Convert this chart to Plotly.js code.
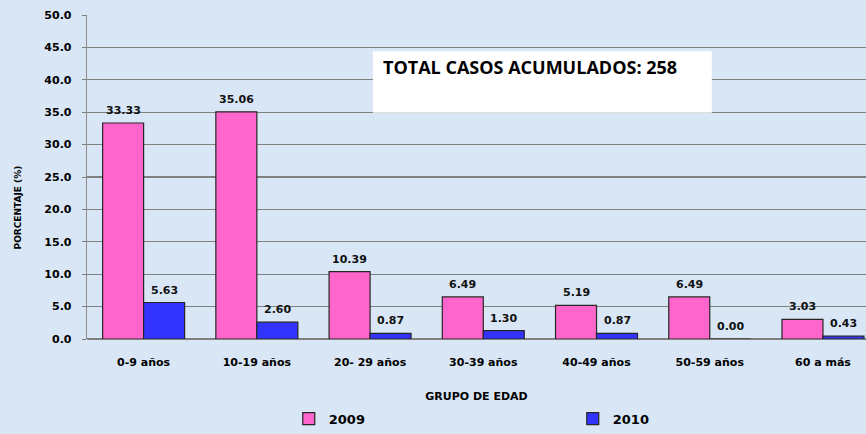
<!DOCTYPE html>
<html>
<head>
<meta charset="utf-8">
<script src="https://cdn.plot.ly/plotly-3.0.1.min.js"></script>
<style>
  body { margin: 0; background: #d8e6f5; }
  #plot { width: 866px; height: 434px; }
</style>
</head>
<body>
<div id="plot"></div>
<script>
var grupos = ['0-9 años', '10-19 años', '20- 29 años', '30-39 años', '40-49 años', '50-59 años', '60 a más'];
var v2009 = [33.33, 35.06, 10.39, 6.49, 5.19, 6.49, 3.03];
var v2010 = [5.63, 2.60, 0.87, 1.30, 0.87, 0.00, 0.43];

var fnt = 'DejaVu Sans, Verdana, sans-serif';

var trace1 = {
  x: grupos,
  y: v2009,
  name: '<b>2009</b>',
  type: 'bar',
  marker: {color: '#ff66cc', line: {color: '#262626', width: 1.2}},
  hoverinfo: 'none'
};

var trace2 = {
  x: grupos,
  y: v2010,
  name: '<b>2010</b>',
  type: 'bar',
  marker: {color: '#3333ff', line: {color: '#262626', width: 1.2}},
  hoverinfo: 'none'
};

// value labels above each bar
var notes = [];
grupos.forEach(function (g, i) {
  notes.push({x: g, y: v2009[i], text: '<b>' + v2009[i].toFixed(2) + '</b>', xref: 'x', yref: 'y',
    xshift: -20.5, yshift: 4, yanchor: 'bottom', showarrow: false,
    font: {family: fnt, size: 11, color: '#111'}});
  notes.push({x: g, y: v2010[i], text: '<b>' + v2010[i].toFixed(2) + '</b>', xref: 'x', yref: 'y',
    xshift: 20.5, yshift: 4, yanchor: 'bottom', showarrow: false,
    font: {family: fnt, size: 11, color: '#111'}});
});

notes.push({text: '<b>TOTAL CASOS ACUMULADOS: 258</b>', xref: 'paper', yref: 'y',
  x: 0.378, y: 41.9, xanchor: 'left', yanchor: 'middle', showarrow: false,
  font: {family: 'Open Sans, Lato, sans-serif', size: 18, color: '#000'}});

notes.push({text: '<b>PORCENTAJE (%)</b>', xref: 'paper', yref: 'paper',
  x: -0.098, y: 0.405, textangle: -90, showarrow: false,
  font: {family: fnt, size: 9, color: '#000'}});

var layout = {
  width: 866, height: 434,
  margin: {l: 87, r: 0, t: 15, b: 95, pad: 0},
  paper_bgcolor: '#d8e6f5',
  plot_bgcolor: 'rgba(0,0,0,0)',
  barmode: 'group',
  bargap: 0.276,
  bargroupgap: 0,
  showlegend: true,
  legend: {orientation: 'h', x: 0.259, y: -0.292, xanchor: 'left', yanchor: 'bottom',
    entrywidth: 239, itemwidth: 30, bgcolor: 'rgba(0,0,0,0)',
    font: {family: fnt, size: 13, color: '#000'}},
  xaxis: {
    type: 'category', range: [-0.5, 6.38], showgrid: false, showline: false,
    ticks: '', ticklabelstandoff: 15,
    tickfont: {family: fnt, size: 11, color: '#000', weight: 'bold'},
    title: {text: '<b>GRUPO DE EDAD</b>', standoff: 24,
      font: {family: fnt, size: 11, color: '#000'}}
  },
  yaxis: {
    range: [0, 50], tick0: 0, dtick: 5, tickformat: '.1f',
    showgrid: true, gridcolor: '#808080', gridwidth: 1.3,
    zeroline: true, zerolinecolor: '#808080', zerolinewidth: 2,
    showline: true, linecolor: '#8c8c8c', linewidth: 1.3,
    ticks: 'outside', ticklen: 4, tickcolor: '#808080', ticklabelstandoff: 8,
    tickfont: {family: fnt, size: 11, color: '#000', weight: 'bold'}
  },
  shapes: [{type: 'rect', xref: 'paper', yref: 'y', x0: 0.367, x1: 0.802, y0: 34.9, y1: 44.4,
    fillcolor: '#ffffff', line: {width: 0}, layer: 'above'}],
  annotations: notes
};

Plotly.newPlot('plot', [trace1, trace2], layout, {displayModeBar: false, staticPlot: true});
</script>
</body>
</html>
